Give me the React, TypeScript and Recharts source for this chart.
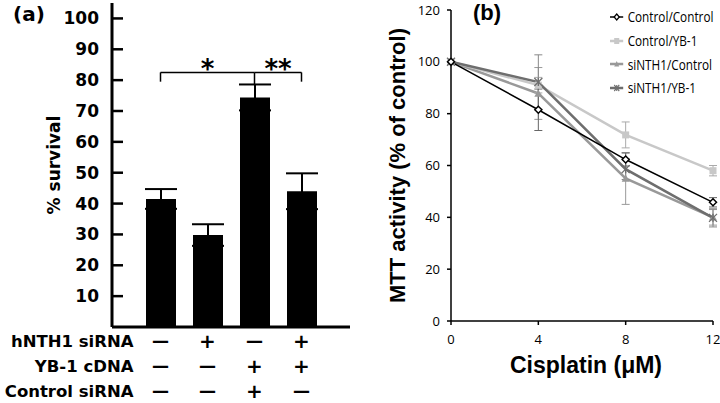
import React from 'react';
import {
  BarChart,
  Bar,
  XAxis,
  YAxis,
  ErrorBar,
  ReferenceLine,
  LineChart,
  Line,
  Legend,
} from 'recharts';

// panel (a)
const groups = ['g1', 'g2', 'g3', 'g4'];
const survival = [41.5, 29.8, 74.4, 44];
const survivalErr = [3.2, 3.5, 4.2, 5.8];
const survivalTicks = [10, 20, 30, 40, 50, 60, 70, 80, 90, 100];
const rowLabels = ['hNTH1 siRNA', 'YB-1 cDNA', 'Control siRNA'];
const hNTH1Row = ['—', '+', '—', '+'];
const yb1Row = ['—', '—', '+', '+'];
const ctrlSiRow = ['—', '—', '+', '—'];

// panel (b)
const doses = [0, 4, 8, 12];
const mttTicks = [0, 20, 40, 60, 80, 100, 120];
const ctrlCtrl = [100, 81.5, 62.3, 45.8];
const ctrlCtrlErr = [0, 8, 2.5, 1.8];
const ctrlYb = [100, 91, 71.8, 58];
const ctrlYbErr = [0, 3, 5, 2];
const siCtrl = [100, 87.8, 55, 40];
const siCtrlErr = [0, 10, 10, 3];
const siYb = [100, 92.2, 58.6, 39.8];
const siYbErr = [0, 10.5, 4, 3.5];

const barData = groups.map((g, i) => ({ name: g, value: survival[i], err: survivalErr[i] }));
const mttData = doses.map((d, i) => ({
  dose: d,
  ctrlCtrl: ctrlCtrl[i],
  ctrlCtrlErr: ctrlCtrlErr[i],
  ctrlYb: ctrlYb[i],
  ctrlYbErr: ctrlYbErr[i],
  siCtrl: siCtrl[i],
  siCtrlErr: siCtrlErr[i],
  siYb: siYb[i],
  siYbErr: siYbErr[i],
}));

const boldFont = '"DejaVu Sans", sans-serif';
const narrowFont = '"Open Sans", sans-serif';
const titleFont = '"Liberation Sans", Arial, sans-serif';

const SurvivalTick = ({ x, y, payload }: any) => (
  <g>
    <line x1={x} x2={x + 11} y1={y} y2={y} stroke="#000" strokeWidth={2.5} />
    <text x={x - 13} y={y} textAnchor="end" dominantBaseline="central" fontFamily={boldFont} fontWeight="bold" fontSize={17} fill="#000">
      {payload.value}
    </text>
  </g>
);

const GroupTick = ({ x, y, index }: any) => {
  const signs = [hNTH1Row[index], yb1Row[index], ctrlSiRow[index]];
  return (
    <g>
      {signs.map((s, r) => (
        <text key={r} x={x} y={y + 14 + r * 25} textAnchor="middle" dominantBaseline="central" fontFamily={boldFont} fontWeight="bold" fontSize={s === '+' ? 20 : 17} fill="#000">
          {s}
        </text>
      ))}
      {index === 0 &&
        rowLabels.map((l, r) => (
          <text key={l} x={x - 27} y={y + 14 + r * 25} textAnchor="end" dominantBaseline="central" fontFamily={boldFont} fontWeight="bold" fontSize={16.5} fill="#000">
            {l}
          </text>
        ))}
    </g>
  );
};

const SurvivalLabel = ({ viewBox }: any) => {
  const x = viewBox.x + 60;
  const y = viewBox.y + viewBox.height / 2;
  return (
    <text x={x} y={y} transform={`rotate(-90 ${x} ${y})`} textAnchor="middle" fontFamily={boldFont} fontWeight="bold" fontSize={17} fill="#000">
      % survival
    </text>
  );
};

const MttLabel = ({ viewBox }: any) => {
  const x = viewBox.x + 45;
  const y = viewBox.y + viewBox.height / 2;
  return (
    <text x={x} y={y} transform={`rotate(-90 ${x} ${y})`} textAnchor="middle" fontFamily={titleFont} fontWeight="bold" fontSize={22} fill="#000">
      MTT activity (% of control)
    </text>
  );
};

const Diamond = ({ cx, cy, size = 3.5 }: any) =>
  cx == null ? null : (
    <polygon
      points={`${cx},${cy - size} ${cx + size},${cy} ${cx},${cy + size} ${cx - size},${cy}`}
      fill="#fff"
      stroke="#000"
      strokeWidth={1.5}
    />
  );
const Square = ({ cx, cy, size = 3.5 }: any) =>
  cx == null ? null : <rect x={cx - size} y={cy - size} width={size * 2} height={size * 2} fill="#c8c8c8" />;
const Triangle = ({ cx, cy, size = 4 }: any) =>
  cx == null ? null : (
    <polygon points={`${cx},${cy - size} ${cx + size},${cy + size * 0.8} ${cx - size},${cy + size * 0.8}`} fill="#999" />
  );
const Star = ({ cx, cy, size = 4 }: any) =>
  cx == null ? null : (
    <g stroke="#6e6e6e" strokeWidth={1.3}>
      <line x1={cx - size} y1={cy - size} x2={cx + size} y2={cy + size} />
      <line x1={cx - size} y1={cy + size} x2={cx + size} y2={cy - size} />
      <line x1={cx} y1={cy - size} x2={cx} y2={cy + size} />
    </g>
  );

const seriesInfo = [
  { name: 'Control/Control', color: '#000', width: 1.5, Marker: Diamond },
  { name: 'Control/YB-1', color: '#c8c8c8', width: 2.5, Marker: Square },
  { name: 'siNTH1/Control', color: '#999', width: 2.5, Marker: Triangle },
  { name: 'siNTH1/YB-1', color: '#6e6e6e', width: 2.5, Marker: Star },
];

const MttLegend = () => (
  <div style={{ fontFamily: narrowFont, fontSize: 14, color: '#000', transform: 'scaleX(0.84)', transformOrigin: 'left center', whiteSpace: 'nowrap' }}>
    {seriesInfo.map(({ name, color, width, Marker }) => (
      <div key={name} style={{ display: 'flex', alignItems: 'center', height: 23.7 }}>
        <svg width={16} height={10} style={{ marginRight: 5 }}>
          <line x1={0} x2={16} y1={5} y2={5} stroke={color} strokeWidth={width} />
          <Marker cx={8} cy={5} size={3} />
        </svg>
        <span>{name}</span>
      </div>
    ))}
  </div>
);

export default function App() {
  return (
    <div style={{ position: 'absolute', left: 0, top: 0, width: 720, height: 403, background: '#fff', display: 'flex' }}>
      <div style={{ position: 'relative', width: 360, height: 403 }}>
        <div style={{ position: 'absolute', left: 13, top: 2, fontFamily: boldFont, fontWeight: 'bold', fontSize: 20 }}>(a)</div>
        <BarChart width={360} height={403} data={barData} margin={{ top: 3, right: 10, bottom: 0, left: 0 }}>
          <XAxis
            dataKey="name"
            height={76}
            padding={{ left: 25, right: 25 }}
            axisLine={{ stroke: '#000', strokeWidth: 3 }}
            tickLine={false}
            tickSize={0}
            tickMargin={0}
            tick={<GroupTick />}
            interval={0}
          />
          <XAxis xAxisId="top" dataKey="name" orientation="top" height={0} tick={false} tickLine={false} axisLine={{ stroke: '#000', strokeWidth: 3 }} />
          <YAxis
            domain={[0, 105]}
            ticks={survivalTicks}
            width={112}
            axisLine={{ stroke: '#000', strokeWidth: 3 }}
            tickLine={false}
            tickSize={0}
            tickMargin={0}
            tick={<SurvivalTick />}
            interval={0}
            label={<SurvivalLabel />}
          />
          <YAxis yAxisId="r" orientation="right" domain={[0, 105]} width={0} tick={false} tickLine={false} axisLine={{ stroke: '#000', strokeWidth: 3 }} />
          <Bar dataKey="value" fill="#000" barSize={30} isAnimationActive={false}>
            <ErrorBar dataKey="err" direction="y" width={16} stroke="#000" strokeWidth={2} />
          </Bar>
          <ReferenceLine segment={[{ x: 'g1', y: 82.5 }, { x: 'g3', y: 82.5 }]} stroke="#000" strokeWidth={1.5}
            label={{ value: '*', position: 'top', offset: -6, fontSize: 26, fontWeight: 'bold', fill: '#000', fontFamily: boldFont }} />
          <ReferenceLine segment={[{ x: 'g3', y: 82.5 }, { x: 'g4', y: 82.5 }]} stroke="#000" strokeWidth={1.5}
            label={{ value: '**', position: 'top', offset: -6, fontSize: 26, fontWeight: 'bold', fill: '#000', fontFamily: boldFont }} />
          <ReferenceLine segment={[{ x: 'g1', y: 82.5 }, { x: 'g1', y: 79.5 }]} stroke="#000" strokeWidth={1.5} />
          <ReferenceLine segment={[{ x: 'g3', y: 82.5 }, { x: 'g3', y: 78.6 }]} stroke="#000" strokeWidth={1.5} />
          <ReferenceLine segment={[{ x: 'g4', y: 82.5 }, { x: 'g4', y: 79.5 }]} stroke="#000" strokeWidth={1.5} />
        </BarChart>
      </div>
      <div style={{ position: 'relative', width: 360, height: 403 }}>
        <div style={{ position: 'absolute', left: 113, top: 0, fontFamily: titleFont, fontWeight: 'bold', fontSize: 22 }}>(b)</div>
        <LineChart width={360} height={403} data={mttData} margin={{ top: 10, right: 7, bottom: 0, left: 0 }}>
          <XAxis
            type="number"
            dataKey="dose"
            domain={[0, 12]}
            ticks={doses}
            height={82}
            axisLine={{ stroke: '#000', strokeWidth: 1.5 }}
            tickLine={{ stroke: '#000', strokeWidth: 1.5 }}
            tickSize={4}
            tickMargin={10}
            tick={{ fontFamily: narrowFont, fontSize: 13, fill: '#000' }}
            label={{ value: 'Cisplatin (μM)', position: 'insideBottom', offset: 30, dx: 4, fontFamily: titleFont, fontWeight: 'bold', fontSize: 23, fill: '#000' }}
          />
          <YAxis
            domain={[0, 120]}
            ticks={mttTicks}
            width={91}
            axisLine={{ stroke: '#000', strokeWidth: 1.5 }}
            tickLine={{ stroke: '#000', strokeWidth: 1.5 }}
            tickSize={4}
            tickMargin={7}
            tick={{ fontFamily: narrowFont, fontSize: 13, fill: '#000' }}
            label={<MttLabel />}
          />
          <Legend
            layout="vertical"
            align="center"
            verticalAlign="middle"
            content={<MttLegend />}
            wrapperStyle={{ left: 250, top: 5, width: 'auto', height: 'auto' }}
          />
          <Line dataKey="siCtrl" stroke="#999" strokeWidth={2.5} dot={<Triangle />} isAnimationActive={false}>
            <ErrorBar dataKey="siCtrlErr" direction="y" width={4} stroke="#999" strokeWidth={1} />
          </Line>
          <Line dataKey="ctrlYb" stroke="#c8c8c8" strokeWidth={2.5} dot={<Square />} isAnimationActive={false}>
            <ErrorBar dataKey="ctrlYbErr" direction="y" width={4} stroke="#aaa" strokeWidth={1} />
          </Line>
          <Line dataKey="siYb" stroke="#6e6e6e" strokeWidth={2.5} dot={<Star />} isAnimationActive={false}>
            <ErrorBar dataKey="siYbErr" direction="y" width={4} stroke="#888" strokeWidth={1} />
          </Line>
          <Line dataKey="ctrlCtrl" stroke="#000" strokeWidth={1.5} dot={<Diamond />} isAnimationActive={false}>
            <ErrorBar dataKey="ctrlCtrlErr" direction="y" width={4} stroke="#666" strokeWidth={1} />
          </Line>
        </LineChart>
      </div>
    </div>
  );
}
